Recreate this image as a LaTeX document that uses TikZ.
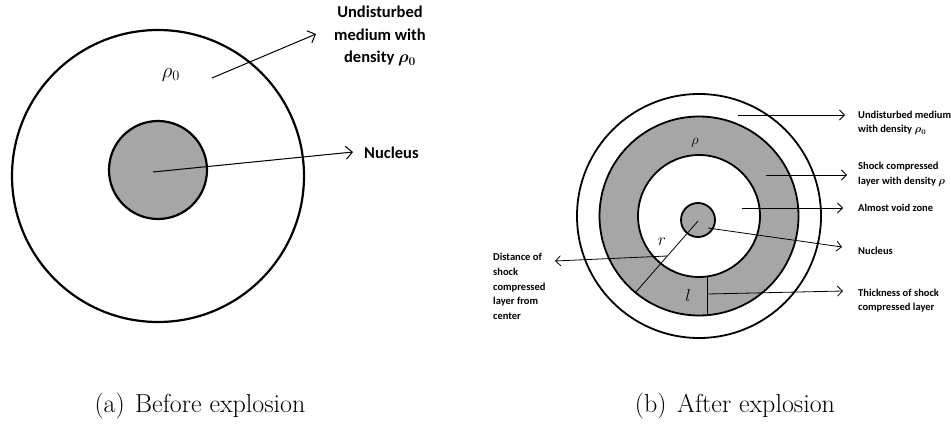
\documentclass[tikz,border=0pt]{standalone}
\usepackage{fontspec}
\newfontfamily\lblfont{Carlito}
\usetikzlibrary{arrows.meta}
\tikzset{
  ring/.style={line width=1.8pt},
  bigring/.style={line width=2.2pt},
  pointer/.style={line width=.8pt,-{Straight Barb[length=5pt,width=10pt]}},
  lbl/.style={font=\lblfont\bfseries\boldmath\fontsize{10.5}{14.7}\selectfont,anchor=west,align=left,inner sep=0pt},
  biglbl/.style={font=\lblfont\bfseries\boldmath\fontsize{16.5}{22.5}\selectfont,align=center,inner sep=0pt},
  caption/.style={font=\fontsize{26}{30}\selectfont,inner sep=0pt}
}
\begin{document}
\begin{tikzpicture}[x=1pt,y=-1pt]
      \useasboundingbox (0,0) rectangle (951,425);
      % before explosion
      \draw[bigring] (158,176) circle[radius=146];
      \draw[bigring,fill=black!35] (158,170) circle[radius=49];
      \node (rhozero) at (171,75) {\fontsize{21}{24}\selectfont$\rho_0$};
      \coordinate (rhozerotail) at (212,78);
      \coordinate (undistzerotip) at (316,34);
      \node[biglbl] (undistzero) at (380,36) {Undisturbed\\medium with\\density $\rho_0$};
      \coordinate (nuczerotail) at (153,172);
      \coordinate (nuczerotip) at (353,152);
      \node[biglbl,anchor=west] (nuczero) at (364,153) {Nucleus};
      \draw[pointer,line width=1pt,-{Straight Barb[length=6.5pt,width=13pt]}] (rhozerotail) -- (undistzerotip);
      \draw[pointer,line width=1pt,-{Straight Barb[length=6.5pt,width=13pt]}] (nuczerotail) -- (nuczerotip);
      \node[caption] (capa) at (200,406) {(a)\hspace{.4em}Before explosion};
      % after explosion
      \fill[black!35,even odd rule] (699,216) circle[radius=99.5] (699,216) circle[radius=61];
      \draw[ring] (699,216) circle[radius=122];
      \draw[ring] (699,216) circle[radius=99.5];
      \draw[ring] (699,216) circle[radius=61];
      \draw[ring,fill=black!35] (698,220) circle[radius=17];
      \coordinate (rtail) at (698,221);
      \coordinate (rhead) at (635,293);
      \draw[line width=.8pt] (rtail) -- (rhead);
      \coordinate (ltop) at (707,277);
      \coordinate (lbot) at (707,314);
      \draw[line width=.8pt] (ltop) -- (lbot);
      \node (rho) at (695,143) {\fontsize{15}{18}\selectfont$\rho$};
      \node (rlbl) at (662,242) {\fontsize{16}{18}\selectfont$r$};
      \node (llbl) at (688,295) {\fontsize{16}{18}\selectfont$l$};
      % labels on the right
      \node[lbl] (undist) at (858,123) {Undisturbed medium\\with density $\rho_0$};
      \node[lbl] (shock) at (858,174.5) {Shock compressed\\layer with density $\rho$};
      \node[lbl] (void) at (858,208) {Almost void zone};
      \node[lbl] (nuc) at (858,251) {Nucleus};
      \node[lbl] (thick) at (858,300.5) {Thickness of shock\\compressed layer};
      \node[lbl] (dist) at (493,286.5) {Distance of\\shock\\compressed\\layer from\\center};
      \coordinate (undisttail) at (738,115);
      \coordinate (undisttip) at (845,115);
      \coordinate (shocktail) at (766,175);
      \coordinate (shocktip) at (847,175);
      \coordinate (voidtail) at (742,208);
      \coordinate (voidtip) at (843,208);
      \coordinate (nuctail) at (708,228);
      \coordinate (nuctip) at (842,247);
      \coordinate (thicktail) at (708,294);
      \coordinate (thicktip) at (843,291);
      \coordinate (disttail) at (667,256);
      \coordinate (disttip) at (555,261);
      \draw[pointer] (undisttail) -- (undisttip);
      \draw[pointer] (shocktail) -- (shocktip);
      \draw[pointer] (voidtail) -- (voidtip);
      \draw[pointer] (nuctail) -- (nuctip);
      \draw[pointer] (thicktail) -- (thicktip);
      \draw[pointer] (disttail) -- (disttip);
      \node[caption] (capb) at (735,406) {(b)\hspace{.4em}After explosion};
    \end{tikzpicture}
\end{document}
